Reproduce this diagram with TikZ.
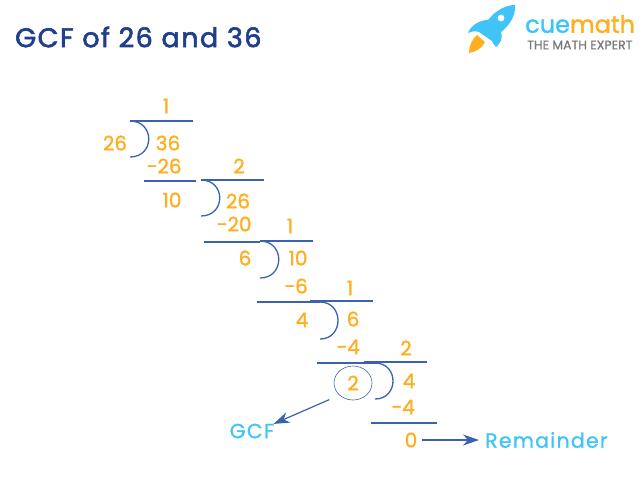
\documentclass[tikz,border=0pt]{standalone}
\usepackage{fontspec}
\setmainfont{Poppins}
\newfontfamily\numfont[FakeBold=1.3]{Poppins}
\newfontfamily\labelfont[FakeBold=1.1, LetterSpace=6]{Poppins}
\newfontfamily\titlefont[FakeBold=2.2, LetterSpace=5.5]{Poppins}
\newfontfamily\brandfont[FakeBold=1.4]{Poppins}
\newfontfamily\sloganfont[FakeBold=0.8]{Poppins}
\definecolor{numorange}{HTML}{FFAE1F}
\definecolor{ruleblue}{HTML}{3A62AE}
\definecolor{titleblue}{HTML}{1F3F8C}
\definecolor{skyblue}{HTML}{40C4F8}
\definecolor{slogangrey}{HTML}{77787B}
\usetikzlibrary{arrows.meta, shapes.geometric}
\tikzset{
    num/.style={text=numorange, inner sep=0pt, font=\numfont\fontsize{20}{20}\selectfont},
    bluelabel/.style={text=skyblue, inner sep=0pt, font=\labelfont\fontsize{20.5}{20.5}\selectfont},
    divline/.style={draw=ruleblue, line width=1.3pt},
    bracket/.style={draw=ruleblue, line width=1.3pt},
    pointer/.style={draw=ruleblue, line width=1.2pt, -{Stealth[length=16pt,width=11pt,inset=5pt]}},
}
\begin{document}
\begin{tikzpicture}[x=1pt, y=-1pt]
    \useasboundingbox (0, 0) rectangle (643, 483);

    \node[anchor=west, inner sep=0pt, text=titleblue, font=\titlefont\fontsize{27}{27}\selectfont] at (15, 37) (title) {GCF of 26 and 36};

    % logo
    \fill[numorange] (469, 53) .. controls (469, 46) and (472, 39) .. (477, 35) -- (485, 42) .. controls (482, 48) and (476, 52) .. (469, 53) -- cycle;
    \fill[skyblue] (515, 5) .. controls (506, 5) and (496, 10) .. (488, 20) .. controls (480, 20) and (471, 25) .. (468, 33) .. controls (472, 31) and (476, 31) .. (479, 32) -- (492, 41) .. controls (493, 43) and (494, 45) .. (496, 47) .. controls (501, 43) and (503, 38) .. (501, 32) .. controls (510, 25) and (516, 15) .. (515, 5) -- cycle;
    \fill[white] (501, 18) circle (3.4);
    \node[anchor=west, inner sep=0pt, font=\brandfont\fontsize{24}{24}\selectfont] at (525, 24) (brand) {\textcolor{skyblue}{cue}\textcolor{numorange}{math}};
    \node[anchor=west, inner sep=0pt, text=slogangrey, font=\sloganfont\fontsize{12.5}{12.5}\selectfont] at (527, 45) (slogan) {THE MATH EXPERT};

    % first step
    \node[num] at (166, 106) (q1) {1};
    \node[num] at (115, 143) (d1) {26};
    \node[num] at (168, 143) (n1) {36};
    \node[num] at (164, 166) (s1) {−26};
    \node[num] at (172, 200) (r1) {10};
    \draw[divline] (130, 121) -- (193, 121);
    \draw[bracket] (130, 121) .. controls (155, 121) and (155, 157) .. (130, 157);
    \draw[divline] (144, 181) -- (196, 181);

    % second step
    \node[num] at (239, 166) (q2) {2};
    \node[num] at (238, 201) (n2) {26};
    \node[num] at (234, 224) (s2) {−20};
    \node[num] at (245, 258) (r2) {6};
    \draw[divline] (201, 180) -- (264, 180);
    \draw[bracket] (201, 180) .. controls (226, 180) and (226, 216) .. (201, 216);
    \draw[divline] (204, 242) -- (260, 242);

    % third step
    \node[num] at (290, 226) (q3) {1};
    \node[num] at (298, 258) (n3) {10};
    \node[num] at (296, 286) (s3) {−6};
    \node[num] at (302, 320) (r3) {4};
    \draw[divline] (260, 241) -- (313, 241);
    \draw[bracket] (260, 241) .. controls (285, 241) and (285, 278) .. (260, 278);
    \draw[divline] (257, 302) -- (320, 302);

    % fourth step
    \node[num] at (350, 288) (q4) {1};
    \node[num] at (353, 319) (n4) {6};
    \node[num] at (348, 347) (s4) {−4};
    \draw[divline] (310, 301) -- (373, 301);
    \draw[bracket] (320, 302) .. controls (344, 302) and (344, 339) .. (320, 339);
    \draw[divline] (317, 363) -- (379, 363);

    % last step
    \node[num] at (406, 348) (q5) {2};
    \node[num] at (409, 381) (n5) {4};
    \node[num] at (403, 407) (s5) {−4};
    \node[num] at (411, 440) (rem) {0};
    \node[num, ellipse, draw=ruleblue, line width=0.6pt, minimum width=38pt, minimum height=34pt] at (353, 383) (gcf) {2};
    \draw[divline] (364, 362) -- (427, 362);
    \draw[bracket] (375, 363) .. controls (399, 363) and (399, 399) .. (375, 399);
    \draw[divline] (371, 423) -- (437, 423);

    % labels
    \node[bluelabel] at (252, 431) (gcflabel) {GCF};
    \node[bluelabel, anchor=west] at (485, 440) (remlabel) {Remainder};
    \draw[pointer, shorten <=11pt, shorten >=-1pt] (gcf.south west) -- (gcflabel.north east);
    \draw[pointer, shorten <=5pt, shorten >=6pt] (rem) -- (remlabel);
\end{tikzpicture}
\end{document}
